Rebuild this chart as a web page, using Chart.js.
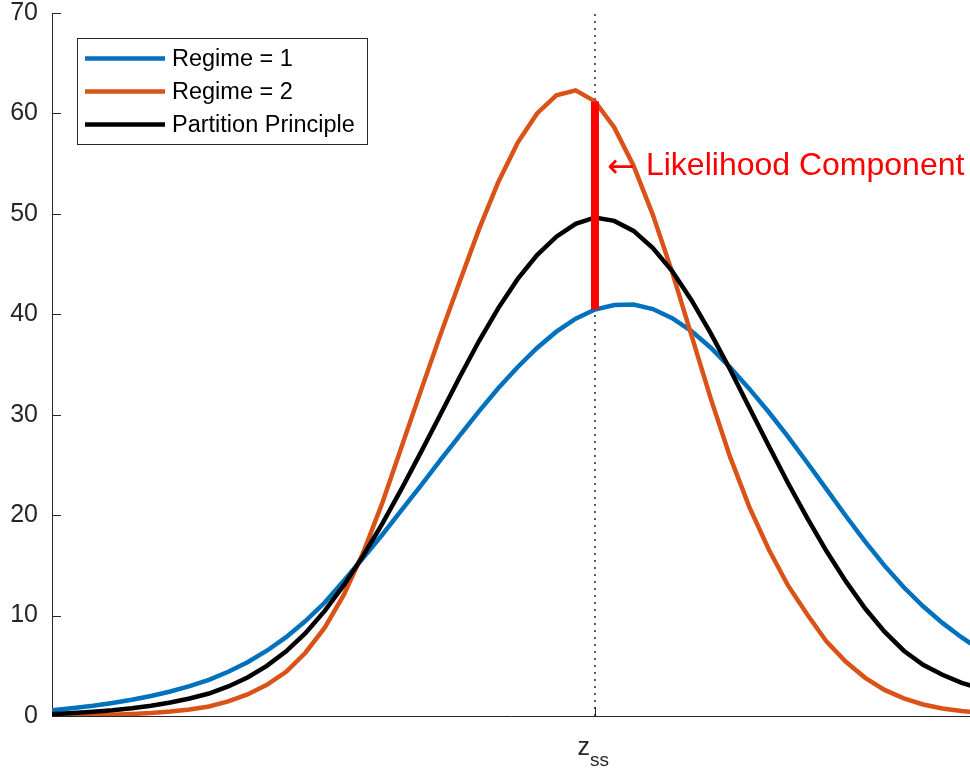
<!DOCTYPE html>
<html>
<head>
<meta charset="utf-8">
<script src="https://cdn.jsdelivr.net/npm/chart.js@4.4.1/dist/chart.umd.min.js"></script>
<style>
  html, body { margin: 0; padding: 0; background: #fff; }
  #wrap { width: 970px; height: 771px; }
</style>
</head>
<body>
<div id="wrap"><canvas id="chart" width="970" height="771"></canvas></div>
<script>
// sample positions along z (z_ss sits at 0)
const zGrid = [-29, -28, -27, -26, -25, -24, -23, -22, -21, -20,
               -19, -18, -17, -16, -15, -14, -13, -12, -11, -10,
               -9, -8, -7, -6, -5, -4, -3, -2, -1, 0,
               1, 2, 3, 4, 5, 6, 7, 8, 9, 10,
               11, 12, 13, 14, 15, 16, 17, 18, 19, 20];

const regime1 = [0.4, 0.6, 0.8, 1.02, 1.29, 1.61, 1.99, 2.44, 2.97, 3.6,
                 4.4, 5.35, 6.5, 7.85, 9.45, 11.3, 13.5, 15.75, 18.1, 20.55,
                 23.0, 25.5, 27.95, 30.35, 32.65, 34.75, 36.65, 38.27, 39.57, 40.47,
                 40.92, 40.97, 40.52, 39.62, 38.32, 36.67, 34.72, 32.57, 30.27, 27.82,
                 25.22, 22.57, 19.92, 17.37, 14.97, 12.82, 10.92, 9.27, 7.82, 6.52];

const regime2 = [0, 0.02, 0.05, 0.08, 0.12, 0.2, 0.3, 0.45, 0.65, 0.95,
                 1.45, 2.15, 3.1, 4.4, 6.3, 8.8, 12.1, 16.3, 21.3, 26.9,
                 32.5, 38.0, 43.3, 48.5, 53.2, 57.1, 60.0, 61.8, 62.3, 61.2,
                 58.6, 54.8, 49.9, 44.2, 37.9, 31.6, 25.8, 20.8, 16.6, 13.0,
                 10.1, 7.4, 5.4, 3.8, 2.6, 1.75, 1.15, 0.75, 0.5, 0.3];

const partition = [0.1, 0.2, 0.3, 0.42, 0.57, 0.77, 1.02, 1.34, 1.74, 2.24,
                   2.94, 3.84, 4.99, 6.44, 8.24, 10.47, 13.05, 15.98, 19.21, 22.69,
                   26.32, 30.05, 33.78, 37.36, 40.64, 43.52, 45.9, 47.73, 49.01, 49.64,
                   49.3, 48.3, 46.6, 44.3, 41.4, 38.1, 34.5, 30.7, 26.9, 23.2,
                   19.7, 16.4, 13.4, 10.7, 8.4, 6.5, 5.1, 4.1, 3.3, 2.7];

const seriesNames = ['Regime = 1', 'Regime = 2', 'Partition Principle'];
const seriesColors = ['#0072BD', '#D95319', '#000000'];

const yTicks = [0, 10, 20, 30, 40, 50, 60, 70];
const xLimits = [-28.13, 19.43];
const zss = 0;
const zssIndex = zGrid.indexOf(zss);
const annotationY = 54.7;
const annotationText = 'Likelihood Component';

const FONT = '"Liberation Sans", Arial, Helvetica, sans-serif';
const AXIS_COLOR = '#262626';
const LINE_W = 4.5;

function pts(vals) {
  return zGrid.map((z, i) => ({ x: z, y: vals[i] }));
}

const extras = {
  id: 'extras',
  afterDatasetsDraw(chart) {
    const { ctx, chartArea: ca, scales: { x, y } } = chart;
    ctx.save();

    // inward tick marks
    ctx.strokeStyle = AXIS_COLOR;
    ctx.lineWidth = 1;
    ctx.beginPath();
    yTicks.forEach(v => {
      const py = Math.round(y.getPixelForValue(v)) + 0.5;
      ctx.moveTo(ca.left, py);
      ctx.lineTo(ca.left + 9, py);
    });
    const px = Math.round(x.getPixelForValue(zss)) + 0.5;
    ctx.moveTo(px, ca.bottom);
    ctx.lineTo(px, ca.bottom - 9);
    ctx.stroke();

    // x tick label z_ss
    ctx.fillStyle = AXIS_COLOR;
    ctx.textBaseline = 'alphabetic';
    ctx.textAlign = 'left';
    ctx.font = '25px ' + FONT;
    const zw = ctx.measureText('z').width;
    ctx.fillText('z', px - 18, ca.bottom + 39);
    ctx.font = '19px ' + FONT;
    ctx.fillText('ss', px - 18 + zw, ca.bottom + 50);

    // legend
    const bx = ca.left + 25, by = ca.top + 25, bw = 290, bh = 106;
    ctx.fillStyle = '#fff';
    ctx.fillRect(bx, by, bw, bh);
    ctx.strokeStyle = AXIS_COLOR;
    ctx.lineWidth = 1;
    ctx.strokeRect(bx + 0.5, by + 0.5, bw, bh);
    ctx.font = '23.5px ' + FONT;
    ctx.textBaseline = 'middle';
    seriesNames.forEach((name, i) => {
      const ly = by + 20.5 + i * 33;
      ctx.strokeStyle = seriesColors[i];
      ctx.lineWidth = LINE_W;
      ctx.beginPath();
      ctx.moveTo(bx + 8, ly);
      ctx.lineTo(bx + 88, ly);
      ctx.stroke();
      ctx.fillStyle = '#000';
      ctx.fillText(name, bx + 95, ly + 1);
    });

    // annotation next to the red bar
    const ax = x.getPixelForValue(zss);
    const ay = y.getPixelForValue(annotationY);
    ctx.fillStyle = '#FF0000';
    ctx.font = '33px "DejaVu Sans", sans-serif';
    ctx.fillText('\u2190', ax + 12, ay + 2);
    ctx.font = '32px ' + FONT;
    ctx.fillText(annotationText, ax + 51, ay);

    ctx.restore();
  }
};

new Chart(document.getElementById('chart'), {
  type: 'scatter',
  data: {
    datasets: [
      {
        label: 'likelihood',
        data: [{ x: zss, y: regime1[zssIndex] }, { x: zss, y: regime2[zssIndex] }],
        showLine: true, borderColor: '#FF0000', borderWidth: 8,
        borderCapStyle: 'butt', pointRadius: 0, order: 0,
      },
      {
        label: seriesNames[2], data: pts(partition), showLine: true,
        borderColor: seriesColors[2], borderWidth: LINE_W, pointRadius: 0, order: 1,
      },
      {
        label: seriesNames[1], data: pts(regime2), showLine: true,
        borderColor: seriesColors[1], borderWidth: LINE_W, pointRadius: 0, order: 2,
      },
      {
        label: seriesNames[0], data: pts(regime1), showLine: true,
        borderColor: seriesColors[0], borderWidth: LINE_W, pointRadius: 0, order: 3,
      },
      {
        label: 'zss',
        data: [{ x: zss, y: yTicks[0] }, { x: zss, y: yTicks[yTicks.length - 1] }],
        showLine: true, borderColor: AXIS_COLOR, borderWidth: 1.5,
        borderDash: [2, 5], pointRadius: 0, order: 4,
      },
    ],
  },
  options: {
    responsive: false,
    animation: false,
    devicePixelRatio: 1,
    layout: { padding: { top: 13, right: 0, left: 0, bottom: 0 } },
    plugins: { legend: { display: false }, tooltip: { enabled: false } },
    scales: {
      x: {
        type: 'linear',
        min: xLimits[0], max: xLimits[1],
        ticks: { display: false },
        grid: { display: false, drawTicks: false },
        border: { display: true, color: AXIS_COLOR, width: 1 },
        afterFit: s => { s.height = 55; s.paddingLeft = 0; s.paddingRight = 0; },
      },
      y: {
        min: yTicks[0], max: yTicks[yTicks.length - 1],
        afterBuildTicks: s => { s.ticks = yTicks.map(v => ({ value: v })); },
        ticks: { color: AXIS_COLOR, padding: 14, font: { size: 25, family: FONT } },
        grid: { display: false, drawTicks: false },
        border: { display: true, color: AXIS_COLOR, width: 1 },
        afterFit: s => { s.width = 52; s.paddingTop = 0; s.paddingBottom = 0; },
      },
    },
  },
  plugins: [extras],
});
</script>
</body>
</html>
